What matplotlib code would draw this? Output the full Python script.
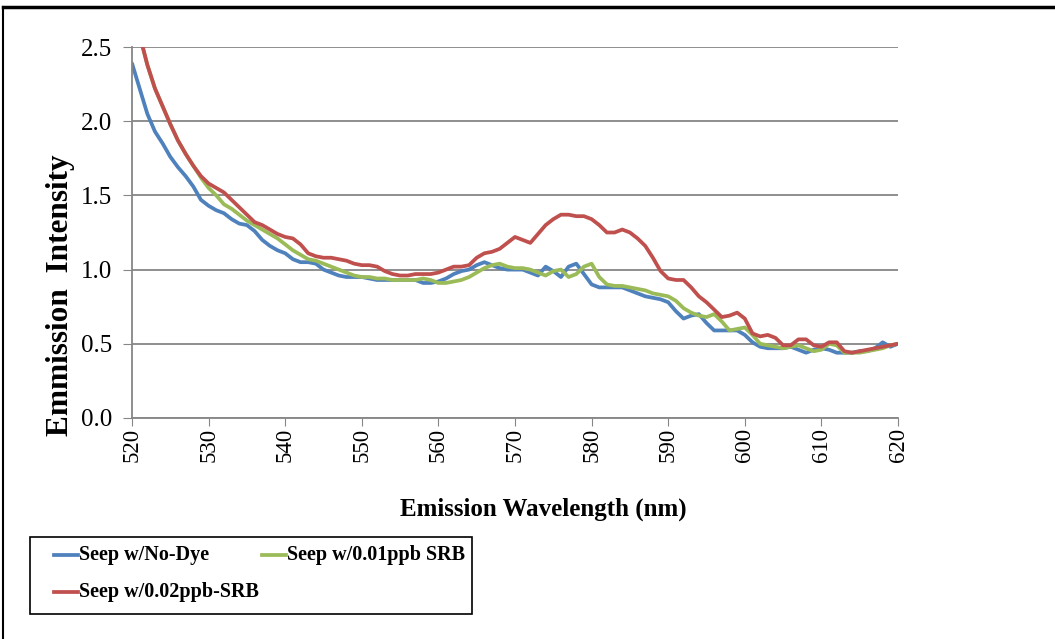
import matplotlib
matplotlib.use('Agg')
import matplotlib.pyplot as plt
from matplotlib.patches import Rectangle
import numpy as np

plt.rcParams['font.family'] = ['Liberation Serif', 'DejaVu Serif']

# data (1 nm step)
wavelength = np.arange(520, 621, 1)

no_dye = [2.39, 2.22, 2.05, 1.93, 1.85, 1.76, 1.69, 1.63, 1.56, 1.47,
          1.43, 1.40, 1.38, 1.34, 1.31, 1.30, 1.26, 1.20, 1.16, 1.13,
          1.11, 1.07, 1.05, 1.05, 1.04, 1.00, 0.98, 0.96, 0.95, 0.95,
          0.95, 0.94, 0.93, 0.93, 0.93, 0.93, 0.93, 0.93, 0.91, 0.91,
          0.92, 0.94, 0.97, 0.99, 1.00, 1.03, 1.05, 1.03, 1.01, 1.00,
          1.00, 1.00, 0.98, 0.96, 1.02, 0.99, 0.95, 1.02, 1.04, 0.97,
          0.90, 0.88, 0.88, 0.88, 0.88, 0.86, 0.84, 0.82, 0.81, 0.80,
          0.78, 0.72, 0.67, 0.69, 0.70, 0.64, 0.59, 0.59, 0.59, 0.59,
          0.56, 0.51, 0.48, 0.47, 0.47, 0.47, 0.48, 0.46, 0.44, 0.46,
          0.47, 0.46, 0.44, 0.44, 0.44, 0.45, 0.45, 0.47, 0.51, 0.48,
          0.50]

srb_001 = [2.78, 2.58, 2.38, 2.22, 2.10, 1.98, 1.87, 1.78, 1.70, 1.62,
           1.55, 1.50, 1.44, 1.41, 1.37, 1.33, 1.30, 1.27, 1.24, 1.21,
           1.17, 1.13, 1.10, 1.07, 1.06, 1.04, 1.02, 1.00, 0.98, 0.96,
           0.95, 0.95, 0.94, 0.94, 0.93, 0.93, 0.93, 0.93, 0.94, 0.93,
           0.91, 0.91, 0.92, 0.93, 0.95, 0.98, 1.01, 1.03, 1.04, 1.02,
           1.01, 1.01, 1.00, 0.98, 0.96, 0.99, 1.00, 0.95, 0.97, 1.02,
           1.04, 0.95, 0.90, 0.89, 0.89, 0.88, 0.87, 0.86, 0.84, 0.83,
           0.82, 0.79, 0.74, 0.71, 0.69, 0.68, 0.70, 0.65, 0.59, 0.60,
           0.61, 0.56, 0.50, 0.49, 0.48, 0.47, 0.48, 0.49, 0.47, 0.45,
           0.46, 0.50, 0.49, 0.44, 0.44, 0.44, 0.45, 0.46, 0.47, 0.49,
           0.50]

srb_002 = [2.80, 2.58, 2.38, 2.22, 2.10, 1.98, 1.87, 1.78, 1.70, 1.63,
           1.58, 1.55, 1.52, 1.47, 1.42, 1.37, 1.32, 1.30, 1.27, 1.24,
           1.22, 1.21, 1.17, 1.11, 1.09, 1.08, 1.08, 1.07, 1.06, 1.04,
           1.03, 1.03, 1.02, 0.99, 0.97, 0.96, 0.96, 0.97, 0.97, 0.97,
           0.98, 1.00, 1.02, 1.02, 1.03, 1.08, 1.11, 1.12, 1.14, 1.18,
           1.22, 1.20, 1.18, 1.24, 1.30, 1.34, 1.37, 1.37, 1.36, 1.36,
           1.34, 1.30, 1.25, 1.25, 1.27, 1.25, 1.21, 1.16, 1.08, 0.99,
           0.94, 0.93, 0.93, 0.88, 0.82, 0.78, 0.73, 0.68, 0.69, 0.71,
           0.67, 0.57, 0.55, 0.56, 0.54, 0.49, 0.49, 0.53, 0.53, 0.49,
           0.48, 0.51, 0.51, 0.45, 0.44, 0.45, 0.46, 0.47, 0.48, 0.49,
           0.50]

labels = ['Seep w/No-Dye', 'Seep w/0.01ppb SRB', 'Seep w/0.02ppb-SRB']
colors = ['#4F81BD', '#9BBB59', '#C0504D']

W, H = 1055, 639
fig = plt.figure(figsize=(W/100, H/100), dpi=100)
ax = fig.add_axes([132/W, 1 - 418/H, 766/W, 371/H])

for ys, c, lab in zip([no_dye, srb_001, srb_002], colors, labels):
    ax.plot(wavelength, ys, color=c, lw=2.7, label=lab,
            solid_joinstyle='round', solid_capstyle='round')

ax.set_xlim(520, 620)
ax.set_ylim(0, 2.5)
ax.set_xticks(np.arange(520, 621, 10))
ax.set_yticks(np.arange(0, 2.51, 0.5))
ax.set_yticklabels(['%.1f' % v for v in np.arange(0, 2.51, 0.5)])
ax.tick_params(axis='x', labelrotation=90, labelsize=16.5, length=6, color='#868686', pad=1)
ax.tick_params(axis='y', labelsize=18, length=6.5, color='#868686', pad=8)
ax.yaxis.grid(True, color='#868686', lw=1.3)
ax.set_axisbelow(True)
for s in ['top', 'right']:
    ax.spines[s].set_visible(False)
for s in ['left', 'bottom']:
    ax.spines[s].set_color('#868686')
    ax.spines[s].set_linewidth(1.3)

ax.set_xlabel('Emission Wavelength (nm)', fontsize=18, fontweight='bold')
ax.xaxis.set_label_coords(0.537, -0.215)
ax.set_ylabel('Emmission  Intensity', fontsize=22.5, fontweight='bold')
ax.yaxis.set_label_coords(-0.074, 0.33)

# legend drawn in figure pixels to follow the reference layout
def fx(px):
    return px / W

def fy(py):
    return 1 - py / H

fig.add_artist(Rectangle((fx(30), fy(614)), fx(472) - fx(30), fy(537) - fy(614),
                         transform=fig.transFigure, fill=False, edgecolor='black', lw=1.2))
legend_items = [(labels[0], colors[0], 54, 555), (labels[1], colors[1], 262, 555),
                (labels[2], colors[2], 54, 592)]
for text, c, x0, yc in legend_items:
    fig.add_artist(plt.Line2D([fx(x0), fx(x0 + 24)], [fy(yc), fy(yc)], color=c, lw=2.7,
                              transform=fig.transFigure))
    fig.text(fx(x0 + 25), fy(yc), text, fontsize=14.5, fontweight='bold', va='center', ha='left')

# outer frame (top and left edges)
fig.add_artist(plt.Line2D([fx(3), 1], [fy(7), fy(7)], color='black', lw=2.5, transform=fig.transFigure))
fig.add_artist(plt.Line2D([fx(3), fx(3)], [0, fy(7)], color='black', lw=1.5, transform=fig.transFigure))

fig.savefig('out.png', dpi=100)
